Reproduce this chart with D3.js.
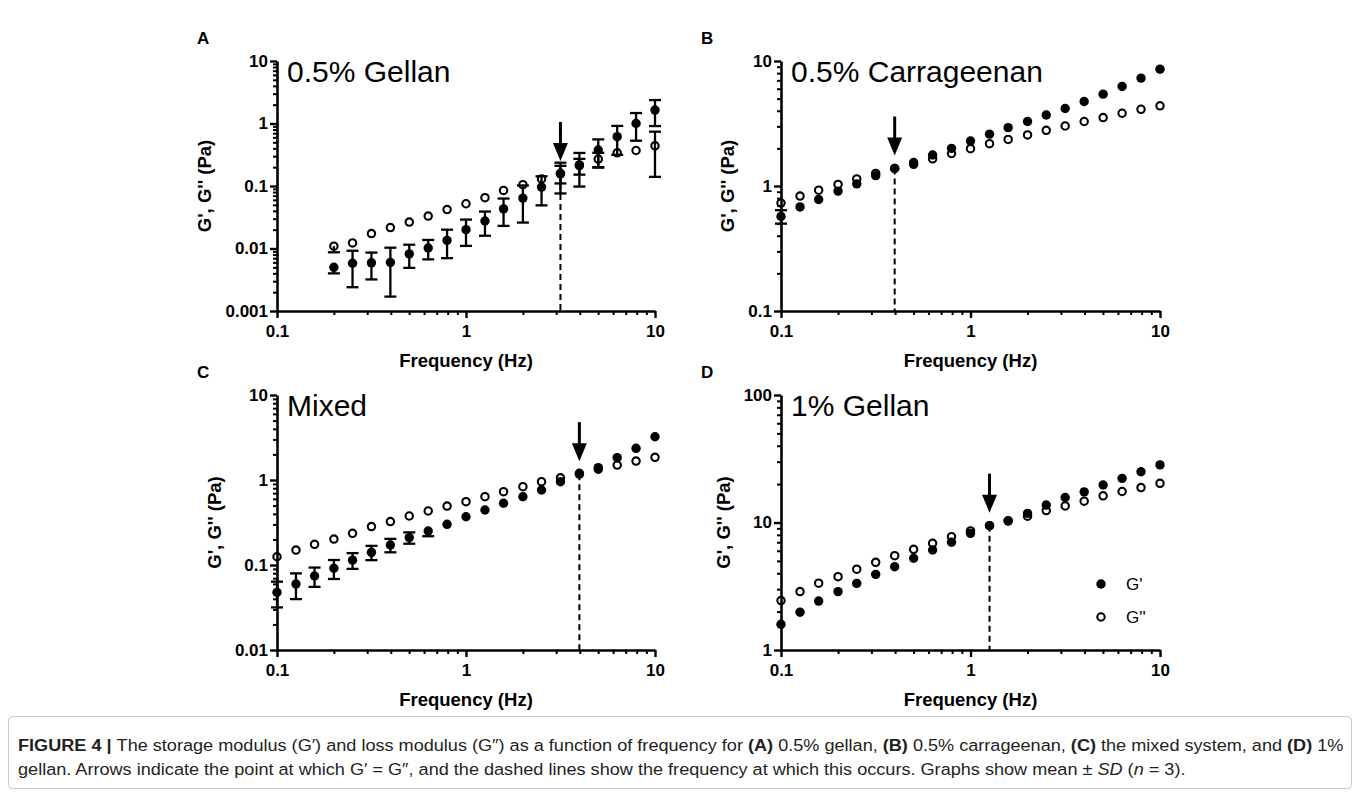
<!DOCTYPE html>
<html>
<head>
<meta charset="utf-8">
<script src="https://cdn.jsdelivr.net/npm/d3@7"></script>
<style>
  body { margin: 0; background: #fff; }
  svg { display: block; font-family: "Liberation Sans", Arial, sans-serif; }
</style>
</head>
<body>
<svg id="fig" width="1360" height="800"></svg>
<script>
// frequencies (Hz), 10 points per decade
var freq = [0.1, 0.126, 0.158, 0.2, 0.251, 0.316, 0.398, 0.501, 0.631, 0.794,
            1, 1.26, 1.58, 2, 2.51, 3.16, 3.98, 5.01, 6.31, 7.94, 10];
var freqA = [0.2, 0.251, 0.316, 0.398, 0.501, 0.631, 0.794,
             1, 1.26, 1.58, 2, 2.51, 3.16, 3.98, 5.01, 6.31, 7.94, 10];

// (A) 0.5% gellan
var gelA_Gp    = [0.0050, 0.0058, 0.0059, 0.0060, 0.0082, 0.0102, 0.0135, 0.020, 0.0275, 0.043,
                  0.064, 0.096, 0.156, 0.218, 0.377, 0.615, 1.0, 1.64];
var gelA_GpSD  = [0.0010, 0.0034, 0.0027, 0.0043, 0.0033, 0.0035, 0.0065, 0.009, 0.0115, 0.020,
                  0.038, 0.047, 0.080, 0.120, 0.180, 0.30, 0.47, 0.73];
var gelA_Gpp   = [0.0109, 0.0123, 0.0173, 0.0216, 0.0265, 0.033, 0.042, 0.052, 0.065, 0.085,
                  0.105, 0.130, 0.16, 0.212, 0.27, 0.34, 0.37, 0.44];
var gelA_GppSD = [0.0022, 0.0008, 0.0010, 0.0010, 0.0012, 0.0012, 0.002, 0.002, 0.003, 0.006,
                  0.008, 0.022, 0.05, 0.06, 0.07, 0.05, 0.04, 0.30];

// (B) 0.5% carrageenan
var carr_Gp    = [0.57, 0.68, 0.78, 0.91, 1.04, 1.21, 1.38, 1.54, 1.77, 2.0, 2.29,
                  2.6, 2.93, 3.28, 3.7, 4.17, 4.74, 5.43, 6.26, 7.3, 8.6];
var carr_GpSD  = [0.07, 0.03, 0.06, 0.03, 0.03, 0.03, 0.03, 0.03, 0.03, 0.03, 0.03,
                  0.04, 0.04, 0.04, 0.05, 0.05, 0.05, 0.06, 0.06, 0.07, 0.08];
var carr_Gpp   = [0.73, 0.83, 0.925, 1.03, 1.14, 1.26, 1.38, 1.49, 1.65, 1.82, 1.99,
                  2.18, 2.36, 2.56, 2.79, 3.02, 3.28, 3.53, 3.82, 4.11, 4.38];
var carr_GppSD = [0.03, 0.03, 0.03, 0.03, 0.03, 0.03, 0.03, 0.03, 0.03, 0.03, 0.03,
                  0.03, 0.03, 0.03, 0.04, 0.04, 0.04, 0.04, 0.05, 0.05, 0.05];

// (C) mixed system
var mix_Gp     = [0.0477, 0.0597, 0.0743, 0.0915, 0.114, 0.141, 0.172, 0.21, 0.251, 0.301, 0.37,
                  0.444, 0.532, 0.636, 0.763, 0.955, 1.17, 1.4, 1.83, 2.36, 3.23];
var mix_GpSD   = [0.016, 0.020, 0.019, 0.023, 0.024, 0.027, 0.031, 0.032, 0.033, 0.03, 0.02,
                  0.02, 0.02, 0.02, 0.02, 0.03, 0.03, 0.03, 0.04, 0.05, 0.06];
var mix_Gpp    = [0.125, 0.15, 0.175, 0.202, 0.236, 0.283, 0.324, 0.377, 0.432, 0.494, 0.556,
                  0.636, 0.728, 0.834, 0.955, 1.06, 1.2, 1.34, 1.5, 1.67, 1.85];
var mix_GppSD  = [0.005, 0.005, 0.005, 0.006, 0.006, 0.007, 0.008, 0.009, 0.01, 0.01, 0.01,
                  0.01, 0.01, 0.02, 0.02, 0.02, 0.02, 0.02, 0.03, 0.03, 0.03];

// (D) 1% gellan
var gel1_Gp    = [1.59, 1.98, 2.42, 2.87, 3.33, 3.92, 4.5, 5.24, 6.09, 7.0, 8.22,
                  9.44, 10.3, 11.8, 13.7, 15.7, 17.4, 19.7, 22.2, 25.0, 28.3];
var gel1_GpSD  = [0.06, 0.17, 0.08, 0.1, 0.1, 0.1, 0.1, 0.15, 0.15, 0.2, 0.2,
                  0.2, 0.3, 0.3, 0.3, 0.4, 0.4, 0.5, 0.5, 0.6, 0.6];
var gel1_Gpp   = [2.44, 2.87, 3.34, 3.76, 4.3, 4.87, 5.49, 6.16, 6.87, 7.74, 8.58,
                  9.44, 10.3, 11.2, 12.4, 13.5, 14.7, 16.2, 17.5, 18.8, 20.3];
var gel1_GppSD = [0.05, 0.05, 0.06, 0.06, 0.08, 0.08, 0.1, 0.1, 0.1, 0.15, 0.15,
                  0.2, 0.2, 0.2, 0.25, 0.25, 0.3, 0.3, 0.3, 0.35, 0.35];

// crossover frequencies (G' = G'')
var crossFreq = [3.16, 0.398, 3.98, 1.26];

var titles = ["0.5% Gellan", "0.5% Carrageenan", "Mixed", "1% Gellan"];
var letters = ["A", "B", "C", "D"];
var yDomains = [[0.001, 10], [0.1, 10], [0.01, 10], [1, 100]];
var yTickVals = [[0.001, 0.01, 0.1, 1, 10], [0.1, 1, 10], [0.01, 0.1, 1, 10], [1, 10, 100]];
var xTickVals = [0.1, 1, 10];

var panels = [
  {x: freqA, gp: gelA_Gp, gpsd: gelA_GpSD, gpp: gelA_Gpp, gppsd: gelA_GppSD, left: 277, top: 61, right: 655, bottom: 311},
  {x: freq, gp: carr_Gp, gpsd: carr_GpSD, gpp: carr_Gpp, gppsd: carr_GppSD, left: 781, top: 61, right: 1160, bottom: 311},
  {x: freq, gp: mix_Gp, gpsd: mix_GpSD, gpp: mix_Gpp, gppsd: mix_GppSD, left: 277, top: 395, right: 655, bottom: 650},
  {x: freq, gp: gel1_Gp, gpsd: gel1_GpSD, gpp: gel1_Gpp, gppsd: gel1_GppSD, left: 781, top: 395, right: 1160, bottom: 650}
];

var svg = d3.select("#fig");
var R = 4.7;

function fmt(d) { return d3.format("~g")(d); }

function minorTicks(dom) {
  var out = [];
  var lo = Math.round(Math.log10(dom[0])), hi = Math.round(Math.log10(dom[1]));
  for (var e = lo; e < hi; e++) {
    for (var m = 2; m <= 9; m++) out.push(m * Math.pow(10, e));
  }
  return out;
}

panels.forEach(function (p, i) {
  var g = svg.append("g");
  var x = d3.scaleLog().domain([0.1, 10]).range([p.left, p.right]);
  var y = d3.scaleLog().domain(yDomains[i]).range([p.bottom, p.top]);

  // axes: minor ticks first, then majors with labels
  g.append("g").attr("transform", "translate(0," + p.bottom + ")")
    .call(d3.axisBottom(x).tickValues(minorTicks([0.1, 10])).tickSize(4).tickFormat(""))
    .call(function (s) { s.select(".domain").remove(); s.selectAll("line").attr("stroke-width", 2); });
  g.append("g").attr("transform", "translate(" + p.left + ",0)")
    .call(d3.axisLeft(y).tickValues(minorTicks(yDomains[i])).tickSize(4).tickFormat(""))
    .call(function (s) { s.select(".domain").remove(); s.selectAll("line").attr("stroke-width", 2); });

  var xa = g.append("g").attr("transform", "translate(0," + p.bottom + ")")
    .call(d3.axisBottom(x).tickValues(xTickVals).tickSize(7).tickSizeOuter(0).tickPadding(5).tickFormat(fmt));
  var ya = g.append("g").attr("transform", "translate(" + p.left + ",0)")
    .call(d3.axisLeft(y).tickValues(yTickVals[i]).tickSize(7).tickSizeOuter(0).tickPadding(2).tickFormat(fmt));
  [xa, ya].forEach(function (a) {
    a.select(".domain").attr("stroke-width", 2.6);
    a.selectAll(".tick line").attr("stroke-width", 2.4);
    a.selectAll(".tick text").attr("font-size", 17).attr("font-weight", "bold")
      .attr("font-family", "'Liberation Sans', Arial, sans-serif").attr("fill", "#000");
  });
  xa.selectAll(".tick text").attr("dy", "0.85em");

  // axis titles
  var maxW = 0;
  ya.selectAll(".tick text").each(function () { maxW = Math.max(maxW, this.getBBox().width); });
  g.append("text")
    .attr("transform", "translate(" + (p.left - maxW - 23) + "," + ((p.top + p.bottom) / 2) + ") rotate(-90)")
    .attr("text-anchor", "middle").attr("font-size", 18.5).attr("font-weight", "bold")
    .text("G', G'' (Pa)");
  g.append("text")
    .attr("x", (p.left + p.right) / 2).attr("y", p.bottom + 56)
    .attr("text-anchor", "middle").attr("font-size", 18.5).attr("font-weight", "bold")
    .text("Frequency (Hz)");

  // panel title and letter
  g.append("text").attr("x", p.left + 10).attr("y", p.top + 21)
    .attr("font-size", 30).text(titles[i]);
  g.append("text").attr("x", p.left - 80).attr("y", p.top - 17)
    .attr("font-size", 17).attr("font-weight", "bold").text(letters[i]);

  var pts = p.x.map(function (f, k) {
    return {f: f, gp: p.gp[k], gpsd: p.gpsd[k], gpp: p.gpp[k], gppsd: p.gppsd[k]};
  });

  // crossover dashed line + arrow
  var ci = p.x.indexOf(crossFreq[i]);
  var cx = x(crossFreq[i]), cy = y(p.gp[ci]);
  g.append("line").attr("x1", cx).attr("x2", cx).attr("y1", cy).attr("y2", p.bottom)
    .attr("stroke", "#000").attr("stroke-width", 2).attr("stroke-dasharray", "6,4");
  var tip = cy - 13;
  g.append("line").attr("x1", cx).attr("x2", cx).attr("y1", tip - 39).attr("y2", tip - 15)
    .attr("stroke", "#000").attr("stroke-width", 3);
  g.append("path")
    .attr("d", "M" + (cx - 7.5) + "," + (tip - 18) + "L" + (cx + 7.5) + "," + (tip - 18) + "L" + cx + "," + tip + "Z")
    .attr("fill", "#000");

  // error bars (mean +/- SD), skipped when hidden inside the symbol
  function errBars(key, sdKey) {
    pts.forEach(function (d) {
      var hi = y(d[key] + d[sdKey]);
      var lo = y(Math.max(d[key] - d[sdKey], yDomains[i][0] * 0.5));
      var xc = x(d.f);
      if (y(d[key]) - hi > R + 0.5) {
        g.append("line").attr("x1", xc).attr("x2", xc).attr("y1", y(d[key])).attr("y2", hi)
          .attr("stroke", "#000").attr("stroke-width", 2.3);
        g.append("line").attr("x1", xc - 6).attr("x2", xc + 6).attr("y1", hi).attr("y2", hi)
          .attr("stroke", "#000").attr("stroke-width", 2.3);
      }
      if (lo - y(d[key]) > R + 0.5) {
        g.append("line").attr("x1", xc).attr("x2", xc).attr("y1", y(d[key])).attr("y2", lo)
          .attr("stroke", "#000").attr("stroke-width", 2.3);
        g.append("line").attr("x1", xc - 6).attr("x2", xc + 6).attr("y1", lo).attr("y2", lo)
          .attr("stroke", "#000").attr("stroke-width", 2.3);
      }
    });
  }
  errBars("gp", "gpsd");
  errBars("gpp", "gppsd");

  g.selectAll(".gp").data(pts).enter().append("circle")
    .attr("cx", function (d) { return x(d.f); })
    .attr("cy", function (d) { return y(d.gp); })
    .attr("r", R).attr("fill", "#000");
  g.selectAll(".gpp").data(pts).enter().append("circle")
    .attr("cx", function (d) { return x(d.f); })
    .attr("cy", function (d) { return y(d.gpp); })
    .attr("r", R - 1).attr("fill", "none").attr("stroke", "#000").attr("stroke-width", 2.1);

  // legend only in panel D
  if (i === 3) {
    var lg = g.append("g");
    lg.append("circle").attr("cx", 1101).attr("cy", 584).attr("r", R).attr("fill", "#000");
    lg.append("circle").attr("cx", 1101).attr("cy", 617).attr("r", R - 1)
      .attr("fill", "none").attr("stroke", "#000").attr("stroke-width", 2.1);
    lg.append("text").attr("x", 1126).attr("y", 590).attr("font-size", 17).text("G'");
    lg.append("text").attr("x", 1126).attr("y", 623).attr("font-size", 17).text("G''");
  }
});

// caption box
svg.append("rect").attr("x", 8.5).attr("y", 716.5).attr("width", 1343).attr("height", 72)
  .attr("rx", 4).attr("fill", "none").attr("stroke", "#c8c8c8").attr("stroke-width", 1);

// condensed caption text: taller glyphs squeezed horizontally
var cap = svg.append("g").attr("font-family", "'Liberation Sans', Arial, sans-serif")
  .attr("font-size", 17).attr("fill", "#231f20");
var l1 = cap.append("text").attr("x", 0).attr("y", 0);
l1.append("tspan").attr("font-weight", "bold").text("FIGURE 4 | ");
l1.append("tspan").text("The storage modulus (G\u2032) and loss modulus (G\u2033) as a function of frequency for ");
l1.append("tspan").attr("font-weight", "bold").text("(A)");
l1.append("tspan").text(" 0.5% gellan, ");
l1.append("tspan").attr("font-weight", "bold").text("(B)");
l1.append("tspan").text(" 0.5% carrageenan, ");
l1.append("tspan").attr("font-weight", "bold").text("(C)");
l1.append("tspan").text(" the mixed system, and ");
l1.append("tspan").attr("font-weight", "bold").text("(D)");
l1.append("tspan").text(" 1%");
var l2 = cap.append("text").attr("x", 0).attr("y", 24);
l2.append("tspan").text("gellan. Arrows indicate the point at which G\u2032 = G\u2033, and the dashed lines show the frequency at which this occurs. Graphs show mean \u00b1 ");
l2.append("tspan").attr("font-style", "italic").text("SD");
l2.append("tspan").text(" (");
l2.append("tspan").attr("font-style", "italic").text("n");
l2.append("tspan").text(" = 3).");

var w1 = l1.node().getComputedTextLength();
var sx = w1 > 0 ? 1327 / w1 : 1;
cap.attr("transform", "translate(18,751) scale(" + sx + ",1)");
</script>
</body>
</html>
